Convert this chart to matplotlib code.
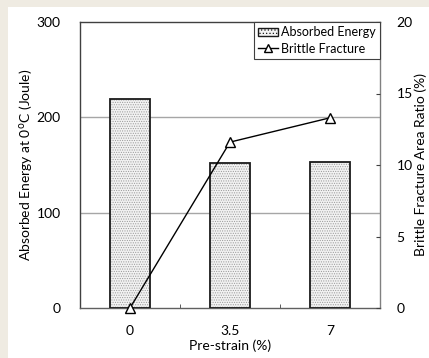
import numpy as np
import matplotlib.pyplot as plt
from matplotlib.patches import Patch, Rectangle
from matplotlib.lines import Line2D

strain_labels = ['0', '3.5', '7']
absorbed_energy = [219, 152, 153]
brittle_ratio = [0, 11.6, 13.3]

plt.rcParams['font.family'] = ['Lato', 'DejaVu Sans']
plt.rcParams['font.size'] = 10
plt.rcParams['hatch.linewidth'] = 0.5

fig = plt.figure(figsize=(4.29, 3.58), dpi=100)
fig.patch.set_facecolor('#efebe2')
# white panel inside the beige frame
fig.add_artist(Rectangle((8 / 429, 0), 1, 1 - 7 / 358, transform=fig.transFigure,
                         facecolor='white', edgecolor='none', zorder=0))

ax = fig.add_axes([80 / 429, 1 - 308 / 358, 300 / 429, 286 / 358])
ax.set_facecolor('white')
x = np.arange(len(strain_labels))

# dotted fill first, then black outline on top
ax.bar(x, absorbed_energy, width=0.4, color='#f2f2f2', edgecolor='#9a9a9a',
       hatch='.......', linewidth=0, zorder=2)
ax.bar(x, absorbed_energy, width=0.4, fill=False, edgecolor='#1a1a1a',
       linewidth=1.3, zorder=3)

ax.set_xlim(-0.5, 2.5)
ax.set_ylim(0, 300)
ax.set_yticks([0, 100, 200, 300])
ax.set_xticks(x, strain_labels)
ax.set_xticks([0.5, 1.5], minor=True)
ax.tick_params(axis='x', which='major', length=0, pad=12)
ax.tick_params(axis='x', which='minor', direction='in', length=3, color='#404040')
ax.tick_params(axis='y', length=0, pad=14)
for yv in [100, 200]:
    ax.axhline(yv, color='#a6a6a6', lw=1, zorder=1)

for s in ax.spines.values():
    s.set_color('#404040')
    s.set_linewidth(1)
ax.spines['right'].set_color('#808080')
ax.spines['bottom'].set_color('#606060')

ax.set_ylabel('Absorbed Energy at 0$^\\mathrm{o}$C (Joule)')
ax.yaxis.set_label_coords(-0.15, 0.5)
ax.set_xlabel('Pre-strain (%)')
ax.xaxis.set_label_coords(0.5, -0.11)

ax2 = ax.twinx()
ax2.plot(x, brittle_ratio, color='black', lw=1, marker='^', markersize=7,
         markerfacecolor='white', markeredgecolor='black', clip_on=False, zorder=4)
ax2.set_ylim(0, 20)
ax2.set_yticks([0, 5, 10, 15, 20])
ax2.tick_params(axis='y', direction='in', length=3, pad=12, color='#404040')
ax2.set_ylabel('Brittle Fracture Area Ratio (%)')
ax2.yaxis.set_label_coords(1.115, 0.5)
for s in ax2.spines.values():
    s.set_visible(False)

handles = [Patch(facecolor='#f2f2f2', edgecolor='#1a1a1a', hatch='.....', linewidth=1),
           Line2D([0], [0], color='black', lw=1, marker='^', markersize=6,
                  markerfacecolor='white', markeredgecolor='black')]
leg = ax2.legend(handles, ['Absorbed Energy', 'Brittle Fracture'], loc='upper right',
                 borderaxespad=0, fancybox=False, framealpha=1, edgecolor='#404040',
                 fontsize=9, handlelength=1.6, handletextpad=0.2, borderpad=0.35,
                 labelspacing=0.35)
leg.get_frame().set_linewidth(0.8)

fig.savefig('out.png', dpi=100, facecolor=fig.get_facecolor())
